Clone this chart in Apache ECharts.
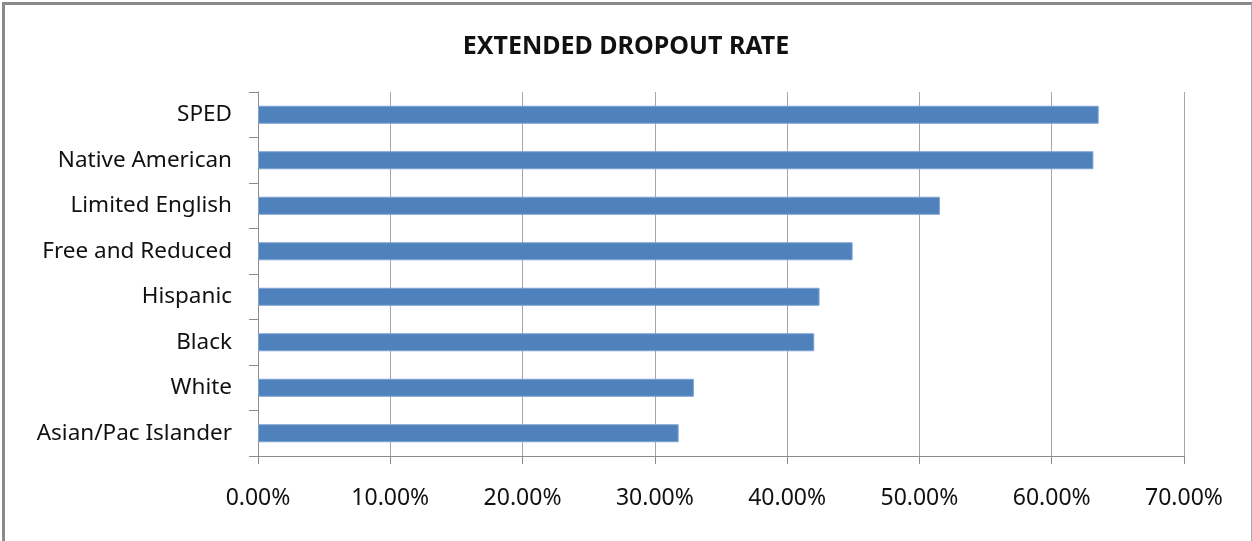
<!DOCTYPE html>
<html>
<head>
<meta charset="utf-8">
<script src="https://cdn.jsdelivr.net/npm/echarts@6/dist/echarts.min.js"></script>
<style>
  html, body { margin: 0; padding: 0; background: #fff; overflow: hidden; }
  #frame {
    position: absolute; left: 2px; top: 2px; width: 1250px; height: 560px;
    border-left: 3px solid #8a8a8a; border-top: 3px solid #8a8a8a;
    border-right: 1px solid #a8a8a8; box-sizing: border-box;
  }
  #chart { position: absolute; left: 0; top: 0; width: 1252px; height: 541px; }
</style>
</head>
<body>
<div id="frame"></div>
<div id="chart"></div>
<script>
// Student groups, listed top to bottom
const groups = [
  'SPED',
  'Native American',
  'Limited English',
  'Free and Reduced',
  'Hispanic',
  'Black',
  'White',
  'Asian/Pac Islander'
];
// Extended dropout rate, percent
const dropoutRate = [63.55, 63.15, 51.55, 44.95, 42.45, 42.05, 32.95, 31.8];
// Percent axis ticks
const axisMin = 0;
const axisMax = 70;
const axisStep = 10;

const FONT = '"Noto Sans", "Open Sans", sans-serif';

const chart = echarts.init(document.getElementById('chart'), null, { renderer: 'canvas' });
chart.setOption({
  backgroundColor: 'transparent',
  animation: false,
  title: {
    text: 'EXTENDED DROPOUT RATE',
    left: 'center',
    top: 29,
    textStyle: { fontFamily: FONT, fontSize: 25, fontWeight: 'bold', color: '#111' }
  },
  grid: { left: 258, right: 68, top: 92, bottom: 85, containLabel: false },
  xAxis: {
    type: 'value',
    min: axisMin,
    max: axisMax,
    interval: axisStep,
    axisLine: { show: true, lineStyle: { color: '#8c8c8c', width: 1 } },
    axisTick: { show: true, length: 8, lineStyle: { color: '#8c8c8c' } },
    axisLabel: {
      margin: 31,
      fontFamily: FONT,
      fontSize: 23,
      color: '#111',
      formatter: v => v.toFixed(2) + '%'
    },
    splitLine: { show: true, lineStyle: { color: '#a6a6a6', width: 1 } }
  },
  yAxis: {
    type: 'category',
    data: groups,
    inverse: true,
    axisLine: { show: true, lineStyle: { color: '#8c8c8c', width: 1 } },
    axisTick: { show: true, length: 9, alignWithLabel: false, lineStyle: { color: '#8c8c8c' } },
    axisLabel: { margin: 26, fontFamily: FONT, fontSize: 22.5, color: '#111' },
    splitLine: { show: false }
  },
  series: [{
    type: 'bar',
    data: dropoutRate,
    barWidth: 18,
    itemStyle: { color: '#4f81bd', borderColor: '#7ea3d2', borderWidth: 1 }
  }]
});
</script>
</body>
</html>
